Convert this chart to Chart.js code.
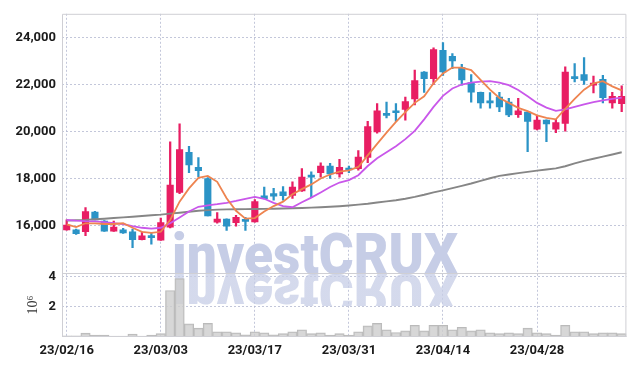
<!DOCTYPE html>
<html><head><meta charset="utf-8">
<script src="https://cdn.jsdelivr.net/npm/chart.js@4.4.1/dist/chart.umd.min.js"></script>
<style>html,body{margin:0;padding:0;background:#fff}#wrap{width:635px;height:366px;position:relative}</style>
</head><body><div id="wrap"><canvas id="c" width="635" height="366"></canvas></div>
<script>
const dates = ['23/02/16','23/02/17','23/02/20','23/02/21','23/02/22','23/02/23','23/02/24','23/02/27','23/02/28','23/03/02',
'23/03/03','23/03/06','23/03/07','23/03/08','23/03/09','23/03/10','23/03/13','23/03/14','23/03/15','23/03/16',
'23/03/17','23/03/20','23/03/21','23/03/22','23/03/23','23/03/24','23/03/27','23/03/28','23/03/29','23/03/30',
'23/03/31','23/04/03','23/04/04','23/04/05','23/04/06','23/04/07','23/04/10','23/04/11','23/04/12','23/04/13',
'23/04/14','23/04/17','23/04/18','23/04/19','23/04/20','23/04/21','23/04/24','23/04/25','23/04/26','23/04/27',
'23/04/28','23/05/02','23/05/03','23/05/04','23/05/08','23/05/09','23/05/10','23/05/11','23/05/12','23/05/15'];
const opens = [15830,15830,15750,16590,16200,15780,15830,15750,15420,15550,
15390,15950,17420,19120,18480,18010,16160,16290,16140,16210,
16170,17280,17370,17450,17290,17480,18120,18260,18540,18200,
18450,18430,18900,19990,20770,20880,20940,21390,22530,22250,
23450,23200,22720,22080,21670,21300,21470,21250,20720,20830,
20100,20490,20100,20350,22310,22420,21970,22220,21220,21190];
const highs = [16260,15860,16780,16620,16230,16200,15900,15860,15750,15720,
16330,19570,20330,19380,18900,18050,16560,16300,16450,16360,
17120,17650,17590,17670,17870,18430,18290,18680,18650,18820,
18540,19200,20440,21190,21250,21190,21470,22610,22550,23560,
23780,23310,22860,22420,21680,21660,21670,21410,21410,20840,
20690,20500,20520,22750,22890,23140,22360,22390,21670,21940];
const lows = [15820,15640,15580,16250,15760,15770,15680,15080,15400,15220,
15380,15910,17370,18260,18090,16420,16110,15810,15990,15810,
16160,17140,17090,17090,17170,17460,17200,18070,18010,18070,
18260,18360,18680,19930,20580,20430,20490,21130,21660,22000,
22390,22670,21970,21250,21000,21000,20850,20630,20600,19150,
20070,19570,19960,20020,22110,22000,21640,21220,21000,20850];
const closes = [16030,15670,16610,16250,15780,15950,15700,15410,15580,15500,
16140,17730,19240,18590,18340,16420,16290,15990,16360,16190,
17030,17150,17260,17280,17650,18070,18070,18540,18200,18480,
18370,18920,20210,20880,20690,20800,21270,22170,22250,23480,
22530,23000,22190,21670,21220,21220,21050,20710,20880,20430,
20490,20330,20380,22530,22250,22170,22050,21440,21500,21500];
const ma5 = [16060,15950,16110,16110,16080,16080,16110,15920,15750,15700,
15750,16250,17030,17590,18040,18120,17870,17170,16640,16310,
16330,16610,16840,17030,17340,17560,17760,18010,18180,18300,
18360,18500,18990,19480,19960,20410,20830,21220,21500,22050,
22470,22720,22720,22610,22200,21780,21430,21220,21010,20870,
20690,20580,20520,20970,21390,21780,22050,22140,21920,21750];
const ma20 = [16250,16220,16200,16190,16160,16120,16070,15990,15920,15880,
15920,16110,16360,16610,16810,16870,16920,16980,17060,17150,
17230,17150,16980,16840,16790,17000,17200,17420,17650,17840,
17940,18150,18540,18870,19120,19380,19680,20030,20520,21050,
21520,21830,22000,22080,22120,22140,22080,21970,21770,21500,
21220,21020,20880,20940,21050,21160,21250,21330,21390,21440];
const ma60 = [16225,16240,16255,16280,16305,16335,16360,16390,16420,16450,
16477,16520,16560,16600,16640,16670,16690,16700,16705,16710,
16715,16720,16730,16740,16750,16760,16775,16790,16810,16835,
16866,16900,16940,16990,17040,17090,17150,17230,17320,17420,
17506,17600,17700,17800,17910,18020,18120,18180,18240,18290,
18343,18390,18440,18530,18650,18760,18850,18940,19030,19125];
const volumes = [0.08,0.08,0.26,0.13,0.13,0.06,0.06,0.2,0.06,0.13,
0.22,3.09,3.88,0.87,0.59,0.91,0.35,0.35,0.28,0.15,
0.35,0.28,0.15,0.22,0.35,0.48,0.22,0.28,0.13,0.22,
0.13,0.35,0.74,0.91,0.48,0.3,0.41,0.78,0.41,0.78,
0.78,0.48,0.65,0.41,0.48,0.28,0.22,0.28,0.22,0.59,
0.28,0.22,0.13,0.78,0.35,0.35,0.22,0.28,0.28,0.22];
const priceTicks = [16000,18000,20000,22000,24000];
const volumeTicks = [2,4];

const UP = '#e81e63', DOWN = '#2b93c6';
const candleColors = closes.map((c,i)=> c>=opens[i] ? UP : DOWN);
const gridColor = 'rgba(175,180,205,0.75)';
const tickFont = {family:'Roboto', size:13, weight:'bold'};

const frame = {
  id:'frame',
  beforeDatasetsDraw(chart){
    const {ctx} = chart;
    const yv = chart.scales.yv;
    ctx.save();
    const text = 'investCRUX';
    ctx.font = '900 58px Roboto,"Open Sans","Liberation Sans",sans-serif';
    const w = ctx.measureText(text).width;
    const sx = 286 / w;
    const base = yv.top + 1;
    ctx.fillStyle = '#c6cde6';
    ctx.save();
    ctx.translate(172, base);
    ctx.scale(sx, 1);
    ctx.fillText(text, 0, 0);
    ctx.restore();
    ctx.save();
    ctx.beginPath();
    ctx.rect(0, base, 635, 32);
    ctx.clip();
    const g = ctx.createLinearGradient(0, base, 0, base + 32);
    g.addColorStop(0, 'rgba(198,205,230,0.75)');
    g.addColorStop(1, 'rgba(198,205,230,0.15)');
    ctx.fillStyle = g;
    ctx.translate(172, base);
    ctx.scale(sx, -1);
    ctx.fillText(text, 0, 0);
    ctx.restore();
    ctx.restore();
  },
  afterDraw(chart){
    const {ctx, chartArea:a} = chart;
    const yv = chart.scales.yv;
    ctx.save();
    ctx.strokeStyle = '#cfcfd4';
    ctx.lineWidth = 1;
    ctx.beginPath();
    ctx.moveTo(a.left+0.5, a.bottom); ctx.lineTo(a.left+0.5, a.top+0.5);
    ctx.lineTo(a.right-0.5, a.top+0.5); ctx.lineTo(a.right-0.5, a.bottom);
    ctx.moveTo(a.left, Math.round(yv.top)+0.5); ctx.lineTo(a.right, Math.round(yv.top)+0.5);
    ctx.moveTo(a.left, a.bottom-0.5); ctx.lineTo(a.right, a.bottom-0.5);
    ctx.stroke();
    ctx.restore();
  }
};

new Chart(document.getElementById('c'), {
  type:'bar',
  data:{
    labels: dates,
    datasets:[
      {type:'line', label:'MA5', data:ma5, yAxisID:'y', borderColor:'#ee8450', borderWidth:1.8, pointRadius:0, tension:0, order:0},
      {type:'line', label:'MA20', data:ma20, yAxisID:'y', borderColor:'#c957ea', borderWidth:1.8, pointRadius:0, tension:0, order:0},
      {type:'line', label:'MA60', data:ma60, yAxisID:'y', borderColor:'#868686', borderWidth:1.9, pointRadius:0, tension:0, order:0},
      {label:'body', data:opens.map((o,i)=>[o, closes[i]]), yAxisID:'y', backgroundColor:candleColors, barThickness:6.5, minBarLength:2, grouped:false, order:1},
      {label:'wick', data:lows.map((l,i)=>[l, highs[i]]), yAxisID:'y', backgroundColor:candleColors, barThickness:1.6, grouped:false, order:2},
      {label:'volume', data:volumes, yAxisID:'yv', backgroundColor:'rgba(205,205,205,0.8)', borderColor:'#bababa', borderWidth:1, barPercentage:1, categoryPercentage:1, grouped:false, order:3}
    ]
  },
  options:{
    responsive:false, animation:false, maintainAspectRatio:false,
    layout:{padding:{top:9, right:8.6, left:0, bottom:0}},
    plugins:{legend:{display:false}, tooltip:{enabled:false}},
    scales:{
      x:{
        type:'category', offset:true,
        grid:{offset:false, drawTicks:false, color:(c)=> c.index%10===0 ? gridColor : 'rgba(0,0,0,0)'},
        border:{display:false, dash:[2,2]},
        ticks:{autoSkip:false, maxRotation:0, minRotation:0, padding:6, color:'#1a1a1a', font:tickFont,
          callback:(v,i)=> i%10===0 ? dates[i] : ''},
        afterFit:(s)=>{ s.height = 29; }
      },
      yv:{
        stack:'main', stackWeight:65, position:'left', min:0, max:4.25,
        afterBuildTicks:(s)=>{ s.ticks = volumeTicks.map(v=>({value:v})); },
        grid:{color:gridColor, drawTicks:false},
        border:{display:false, dash:[2,2]},
        ticks:{padding:6, color:'#1a1a1a', font:tickFont, callback:(v)=> String(v)},
        title:{display:true, text:'10⁶', color:'#333', font:{family:'Liberation Serif', size:14}, padding:{top:25, bottom:0}},
        afterFit:(s)=>{ s.width = 62; }
      },
      y:{
        stack:'main', stackWeight:263.3, position:'left', min:14000, max:25000,
        afterBuildTicks:(s)=>{ s.ticks = priceTicks.map(v=>({value:v})); },
        grid:{color:gridColor, drawTicks:false},
        border:{display:false, dash:[2,2]},
        ticks:{padding:6, color:'#1a1a1a', font:tickFont, callback:(v)=> v.toLocaleString('en-US')},
        afterFit:(s)=>{ s.width = 62; }
      }
    }
  },
  plugins:[frame]
});
</script>
</body></html>
